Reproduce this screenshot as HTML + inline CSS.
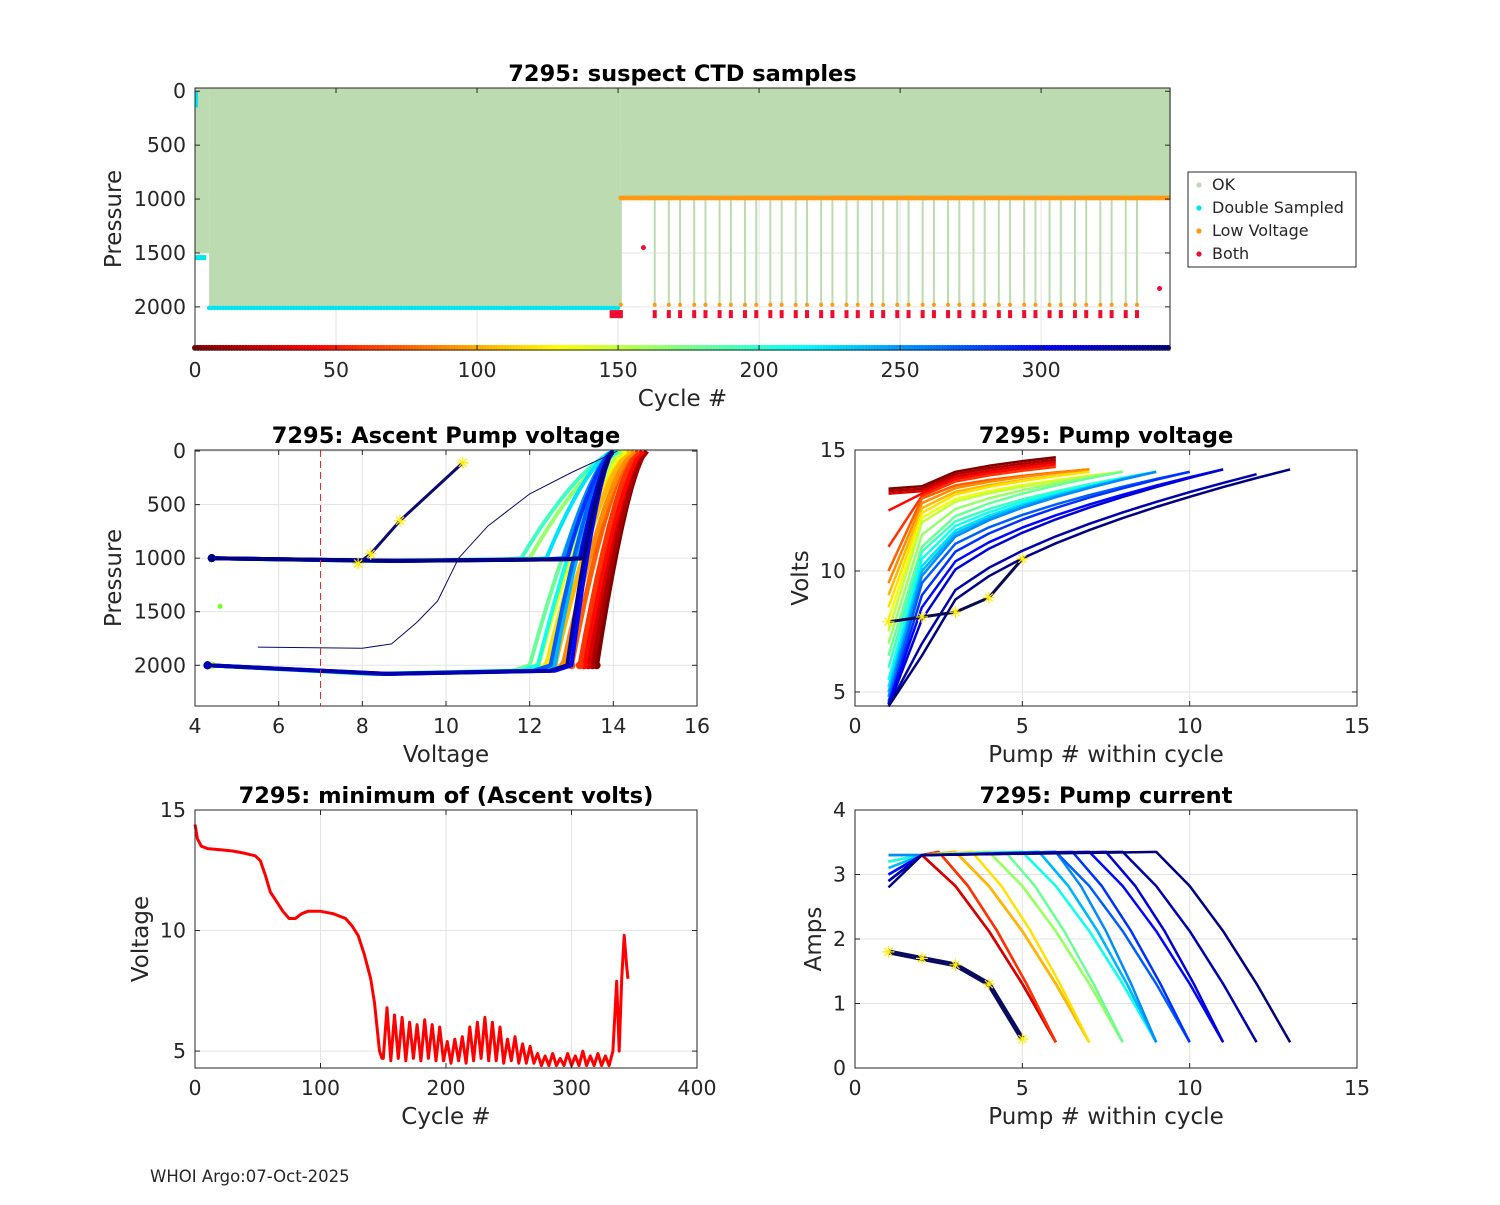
<!DOCTYPE html>
<html><head><meta charset="utf-8"><style>
body{margin:0;background:#fff}
svg text{font-family:"DejaVu Sans","Liberation Sans",sans-serif;fill:#262626}
</style></head><body>
<svg id="s" width="1500" height="1200" viewBox="0 0 1500 1200" xmlns="http://www.w3.org/2000/svg">
<rect width="1500" height="1200" fill="#fff"/>
<text x="150" y="1182" font-size="16.5">WHOI Argo:07-Oct-2025</text>
</svg>
<script>
// ---------- data ----------
const okSegStart=[0,5,151];
const okSegEnd=[4,150,345];
const okSegDepth=[1500,2000,1000];
const deepCycles=[151,163,168,172,177,181,186,190,195,199,204,208,213,217,222,226,231,235,240,244,249,253,258,262,267,271,276,280,285,289,294,298,303,307,312,316,321,325,330,334];
const grpCycle=[0,15,30,45,60,75,90,105,120,135,150,165,180,195,210,225,240,255,270,285,300,315,330,345];
const mlDepth=[2000,2000,2000,2000,2000,2000,2000,2000,2000,2000,2000,1000,2000,1000,2000,1000,2000,1000,2000,1000,2000,1000,2000,1000];
const mlStartV=[13.6,13.5,13.4,13.3,13.2,13.0,12.8,12.6,12.4,12.2,4.4,4.4,4.3,4.4,4.3,4.4,4.3,4.4,4.3,4.4,4.3,4.4,4.3,4.4];
const mlKneeV=[13.6,13.5,13.4,13.3,13.2,13.0,12.8,12.6,12.4,12.2,12.5,12.0,12.0,11.8,12.2,12.4,12.6,12.8,12.5,12.9,13.0,13.2,12.9,13.3];
const mlTopV=[14.8,14.8,14.7,14.7,14.6,14.5,14.5,14.4,14.3,14.3,14.2,14.2,14.1,14.1,14.1,14.0,14.0,14.0,14.0,14.0,14.0,14.0,14.0,14.0];
const mrN=[6,6,6,6,6,7,7,7,7,8,8,8,8,9,9,9,9,9,10,10,11,11,12,13];
const mrV1=[13.4,13.3,13.2,12.5,11,10,9.5,9,8.5,8,7.5,7,6.5,6,5.5,5.2,5,4.8,4.6,4.5,4.5,4.4,4.4,4.4];
const mrV2=[13.5,13.4,13.3,13.2,13.1,13.0,12.8,12.6,12.4,12.2,12.0,11.5,11.0,10.8,10.5,10.2,10.0,9.8,9.5,9.0,8.5,8.0,7.0,6.5];
const mrEnd=[14.7,14.6,14.5,14.4,14.3,14.2,14.2,14.1,14.1,14.1,14.1,14.1,14.1,14.1,14.1,14.1,14.1,14.1,14.1,14.1,14.2,14.2,14.0,14.2];
const brI1=[3.2,3.3,3.3,3.2,3.2,3.3,3.2,3.3,3.2,3.3,3.2,3.3,3.1,3.0,3.2,3.3,3.1,3.3,3.0,2.9,3.0,2.9,2.9,2.8];
const brDropStart=[2,2,2,2.5,2.5,3,3,3,3.5,4,4,4,4.5,5,5,5.5,5.5,6,6,6.5,7,7.5,8,9];
const lowPump=[1,2,3,4,5];
const lowVolt=[7.9,8.1,8.3,8.9,10.5];
const lowAmp=[1.8,1.7,1.6,1.3,0.45];
const blCycle=[0,2,5,10,20,30,40,48,52,56,60,65,70,75,80,85,90,100,110,120,125,130,135,140,143,145,147,149,150,153,156,159,162,165,168,171,174,177,180,183,186,189,192,195,198,201,204,207,210,213,216,219,222,225,228,231,234,237,240,243,246,249,252,255,258,261,264,267,270,273,276,279,282,285,288,291,294,297,300,303,306,309,312,315,318,321,324,327,330,333,336,338,340,342,344,345];
const blVolt=[14.4,13.8,13.5,13.4,13.35,13.3,13.2,13.1,12.9,12.3,11.6,11.2,10.8,10.5,10.5,10.7,10.8,10.8,10.7,10.5,10.2,9.8,9.0,8.0,7.0,6.0,5.0,4.7,4.7,6.8,4.6,6.5,4.7,6.4,4.6,6.2,4.7,6.1,4.6,6.3,4.7,6.1,4.6,6.0,4.6,5.4,4.5,5.5,4.6,5.6,4.5,6.0,4.6,6.2,4.7,6.4,4.6,6.2,4.6,6.0,4.5,5.5,4.6,5.6,4.5,5.3,4.5,5.2,4.5,4.9,4.4,4.8,4.4,4.9,4.4,4.7,4.4,4.9,4.4,4.8,4.4,5.0,4.4,4.8,4.4,4.9,4.4,4.8,4.4,5.0,7.9,5.0,8.0,9.8,8.5,8.0];

// ---------- helpers ----------
const S=document.getElementById('s');const NS='http://www.w3.org/2000/svg';
function mk(tag,attrs,name,parent){const e=document.createElementNS(NS,tag);for(const k in attrs)e.setAttribute(k,attrs[k]);


(parent||S).appendChild(e);return e;}
function jet(c){const t=1-c/345;const f=v=>Math.round(255*Math.max(0,Math.min(1,v)));
return `rgb(${f(1.5-Math.abs(4*t-3))},${f(1.5-Math.abs(4*t-2))},${f(1.5-Math.abs(4*t-1))})`;}
function axes(o){
 o.sx=v=>o.x0+(v-o.xmin)/(o.xmax-o.xmin)*(o.x1-o.x0);
 o.sy=v=>o.rev? o.y0+(v-o.ymin)/(o.ymax-o.ymin)*(o.y1-o.y0) : o.y1-(v-o.ymin)/(o.ymax-o.ymin)*(o.y1-o.y0);
 o.g=mk('g',{},o.name);
 o.grid=mk('g',{},o.name+'-grid',o.g);
 o.xt.forEach(v=>{mk('line',{x1:o.sx(v),x2:o.sx(v),y1:o.y0,y2:o.y1,stroke:'#e3e3e3'},'x-gridline',o.grid);});
 o.yt.forEach(v=>{mk('line',{y1:o.sy(v),y2:o.sy(v),x1:o.x0,x2:o.x1,stroke:'#e3e3e3'},'y-gridline',o.grid);});
 o.plot=mk('g',{},o.name+'-marks',o.g);
 return o;}
function finish(o){
 const g=o.g;
 mk('rect',{x:o.x0,y:o.y0,width:o.x1-o.x0,height:o.y1-o.y0,fill:'none',stroke:'#262626'},'axes-box',g);
 o.xt.forEach(v=>{const x=o.sx(v);mk('line',{x1:x,x2:x,y1:o.y1,y2:o.y1-5,stroke:'#262626'},'x-tick',g);mk('line',{x1:x,x2:x,y1:o.y0,y2:o.y0+5,stroke:'#262626'},'x-tick',g);
 const t=mk('text',{x:x,y:o.y1+27,'font-size':20.5,'text-anchor':'middle'},'x-tick-label',g);t.textContent=v;});
 o.yt.forEach(v=>{const y=o.sy(v);mk('line',{x1:o.x0,x2:o.x0+5,y1:y,y2:y,stroke:'#262626'},'y-tick',g);mk('line',{x1:o.x1,x2:o.x1-5,y1:y,y2:y,stroke:'#262626'},'y-tick',g);
 const t=mk('text',{x:o.x0-9,y:y+7,'font-size':20.5,'text-anchor':'end'},'y-tick-label',g);t.textContent=v;});
 let t=mk('text',{x:(o.x0+o.x1)/2,y:o.y0-7,'font-size':22.5,'font-weight':'bold','text-anchor':'middle',fill:'#000'},'chart-title',g);t.textContent=o.title;t.style.fill='#000';
 t=mk('text',{x:(o.x0+o.x1)/2,y:o.y1+56,'font-size':23,'text-anchor':'middle'},'x-axis-title',g);t.textContent=o.xl;
 const yx=o.x0-o.ylOff, yy=(o.y0+o.y1)/2;
 t=mk('text',{x:yx,y:yy,'font-size':23,'text-anchor':'middle',transform:`rotate(-90 ${yx} ${yy})`},'y-axis-title',g);t.textContent=o.yl;}
function poly(o,pts,col,w,name){mk('polyline',{points:pts.map(p=>o.sx(p[0]).toFixed(1)+','+o.sy(p[1]).toFixed(1)).join(' '),fill:'none',stroke:col,'stroke-width':w,'stroke-linejoin':'round'},name,o.plot);}
function star(o,x,y,name){const cx=o.sx(x),cy=o.sy(y);mk('path',{d:`M${cx-6} ${cy}H${cx+6}M${cx} ${cy-6}V${cy+6}M${cx-4} ${cy-4}L${cx+4} ${cy+4}M${cx-4} ${cy+4}L${cx+4} ${cy-4}`,stroke:'#ffeb00','stroke-width':1.2},name,o.plot);}

// ---------- top chart ----------
const A=axes({name:'suspect-samples-chart',x0:195,x1:1170,y0:88,y1:350,xmin:0,xmax:345.7,ymin:-30,ymax:2400,rev:true,xt:[0,50,100,150,200,250,300],yt:[0,500,1000,1500,2000],title:'7295: suspect CTD samples',xl:'Cycle #',yl:'Pressure',ylOff:74});
okSegStart.forEach((s,i)=>{mk('rect',{x:A.sx(s),y:A.sy(-30),width:A.sx(okSegEnd[i]+1)-A.sx(s),height:A.sy(okSegDepth[i])-A.sy(-30),fill:'#bddbb0'},'ok-samples',A.plot);});
deepCycles.forEach(c=>{mk('line',{x1:A.sx(c),x2:A.sx(c),y1:A.sy(1000),y2:A.sy(2000),stroke:'#bddbb0','stroke-width':2},'ok-deep-profile',A.plot);});
for(let c=okSegStart[1];c<=okSegEnd[1];c++){mk('circle',{cx:A.sx(c),cy:A.sy(2010),r:2.2,fill:'#00e5f0'},'double-sampled-point',A.plot);}
for(let c=okSegStart[2];c<=okSegEnd[2];c++){mk('circle',{cx:A.sx(c),cy:A.sy(990),r:2.5,fill:'#ff9a10'},'low-voltage-point',A.plot);}
deepCycles.forEach(c=>{mk('circle',{cx:A.sx(c),cy:A.sy(1980),r:2,fill:'#ff9a10'},'low-voltage-point',A.plot);mk('rect',{x:A.sx(c)-2,y:A.sy(2030),width:4,height:8,fill:'#ee0c30'},'both-point',A.plot);});
mk('rect',{x:A.sx(147),y:A.sy(2030),width:A.sx(151)-A.sx(147),height:8,fill:'#ee0c30'},'both-point',A.plot);
mk('rect',{x:A.sx(0),y:A.sy(1520),width:A.sx(4)-A.sx(0),height:5,fill:'#00e5f0'},'double-sampled-point',A.plot);
mk('rect',{x:A.sx(0),y:A.sy(0),width:3,height:A.sy(150)-A.sy(0),fill:'#00e5f0'},'double-sampled-point',A.plot);
mk('circle',{cx:A.sx(159),cy:A.sy(1450),r:2.5,fill:'#ee0c30'},'both-point',A.plot);
mk('circle',{cx:A.sx(342),cy:A.sy(1830),r:2.5,fill:'#ee0c30'},'both-point',A.plot);
for(let c=0;c<=345;c++){mk('circle',{cx:A.sx(c),cy:A.sy(2380),r:3,fill:jet(c)},'cycle-color-strip',A.plot);}
finish(A);
// legend
const L=mk('g',{},'legend');
mk('rect',{x:1188,y:172,width:168,height:95,fill:'#fff',stroke:'#262626'},'legend-box',L);
[['OK','#bddbb0'],['Double Sampled','#00e5f0'],['Low Voltage','#ff9a10'],['Both','#ee0c30']].forEach((e,i)=>{
 mk('circle',{cx:1199,cy:185+i*23,r:2.6,fill:e[1]},'legend-marker',L);
 const t=mk('text',{x:1212,y:190+i*23,'font-size':16},'legend-entry',L);t.textContent=e[0];});

// ---------- ascent pump voltage ----------
const B=axes({name:'ascent-pump-voltage-chart',x0:195,x1:697,y0:450,y1:706,xmin:4,xmax:16,ymin:-10,ymax:2380,rev:true,xt:[4,6,8,10,12,14,16],yt:[0,500,1000,1500,2000],title:'7295: Ascent Pump voltage',xl:'Voltage',yl:'Pressure',ylOff:74});
grpCycle.forEach((c,i)=>{const d=mlDepth[i];const pts=[];
 if(mlStartV[i]<mlKneeV[i]){pts.push([mlStartV[i],d]);pts.push([(mlStartV[i]+mlKneeV[i])/2,d+(d>1500?80:25)]);pts.push([mlKneeV[i]-0.4,d+(d>1500?50:10)]);}
 for(let k=0;k<=10;k++){const s=k/10;pts.push([mlKneeV[i]+(mlTopV[i]-mlKneeV[i])*s,d*Math.pow(1-s,1.5)]);}
 poly(B,pts,jet(c),c<150?5:4,'ascent-profile-line');
 mk('circle',{cx:B.sx(mlStartV[i]),cy:B.sy(d),r:4,fill:jet(c)},'ascent-start-point',B.plot);});
poly(B,[[5.5,1830],[8,1840],[8.7,1800],[9.3,1600],[9.8,1400],[10.3,1000],[11,700],[12,400],[13,200],[14.1,0]],'#0a0a70',1,'ascent-outlier-line');
poly(B,[[7.9,1050],[8.2,960],[8.9,650],[10.4,110]],'#0a0a70',3,'ascent-outlier-line');
[[7.9,1050],[8.2,960],[8.9,650],[10.4,110]].forEach(p=>star(B,p[0],p[1],'yellow-star'));
mk('circle',{cx:B.sx(4.6),cy:B.sy(1450),r:2.5,fill:'#70ff20'},'ascent-outlier-point',B.plot);
mk('line',{x1:B.sx(7),x2:B.sx(7),y1:450,y2:706,stroke:'#ff2020','stroke-dasharray':'7,4'},'threshold-line',B.plot);
finish(B);

// ---------- pump voltage ----------
const C=axes({name:'pump-voltage-chart',x0:855,x1:1357,y0:450,y1:706,xmin:0,xmax:15,ymin:4.42,ymax:15,rev:false,xt:[0,5,10,15],yt:[5,10,15],title:'7295: Pump voltage',xl:'Pump # within cycle',yl:'Volts',ylOff:47});
grpCycle.forEach((c,i)=>{const pts=[[1,mrV1[i]],[2,mrV2[i]]];const n=mrN[i];
 for(let p=3;p<=n;p++){pts.push([p,mrV2[i]+(mrEnd[i]-mrV2[i])*Math.sqrt((p-2)/(n-2))]);}
 poly(C,pts,jet(c),2.5,'pump-voltage-line');});
poly(C,lowPump.map((p,k)=>[p,lowVolt[k]]),'#0a0a50',3,'low-voltage-line');
lowPump.forEach((p,k)=>star(C,p,lowVolt[k],'yellow-star'));
finish(C);

// ---------- minimum ascent volts ----------
const D=axes({name:'minimum-ascent-volts-chart',x0:195,x1:697,y0:810,y1:1068,xmin:0,xmax:400,ymin:4.3,ymax:15,rev:false,xt:[0,100,200,300,400],yt:[5,10,15],title:'7295: minimum of (Ascent volts)',xl:'Cycle #',yl:'Voltage',ylOff:47});
poly(D,blCycle.map((c,k)=>[c,blVolt[k]]),'#ff0000',3,'minimum-volts-line');
finish(D);

// ---------- pump current ----------
const E=axes({name:'pump-current-chart',x0:855,x1:1357,y0:810,y1:1068,xmin:0,xmax:15,ymin:0,ymax:4,rev:false,xt:[0,5,10,15],yt:[0,1,2,3,4],title:'7295: Pump current',xl:'Pump # within cycle',yl:'Amps',ylOff:34});
grpCycle.forEach((c,i)=>{const n=mrN[i];const ds=brDropStart[i];const pts=[[1,brI1[i]],[2,3.3]];
 if(ds>2)pts.push([ds,3.35]);
 for(let k=1;k<=4;k++){const f=k/4;pts.push([ds+(n-ds)*f,3.3-2.9*Math.pow(f,1.3)]);}
 poly(E,pts,jet(c),2.5,'pump-current-line');});
poly(E,lowPump.map((p,k)=>[p,lowAmp[k]]),'#0a0a60',5,'low-current-line');
lowPump.forEach((p,k)=>star(E,p,lowAmp[k],'yellow-star'));
finish(E);
</script>
</body></html>
